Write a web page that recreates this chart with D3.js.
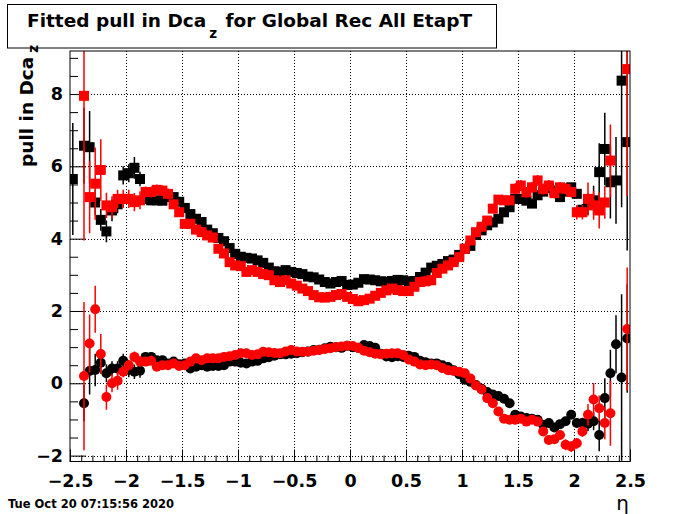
<!DOCTYPE html>
<html><head><meta charset="utf-8">
<script src="https://cdn.jsdelivr.net/npm/d3@7"></script>
<style>html,body{margin:0;padding:0;background:#fff;}svg{display:block;}</style>
</head><body>
<script>
// ---- data ----
const etaMin = -2.5, etaMax = 2.5, binWidth = 0.05;
const xTickValues = [-2.5,-2,-1.5,-1,-0.5,0,0.5,1,1.5,2,2.5];
const xTickLabels = ["\u22122.5","\u22122","\u22121.5","\u22121","\u22120.5","0","0.5","1","1.5","2","2.5"];
const yTickValues = [-2,0,2,4,6,8];
const yTickLabels = ["\u22122","0","2","4","6","8"];

const blackWidth = [
5.65,null,6.57,6.53,5.00,4.52,4.20,4.78,4.95,5.75,
5.81,5.96,5.65,5.10,5.06,5.06,5.05,5.15,5.15,5.02,
4.85,4.68,4.55,4.46,4.25,4.15,4.02,3.93,3.74,3.58,
3.50,3.47,3.45,3.40,3.33,3.20,3.10,3.08,3.13,3.08,
3.05,3.02,2.95,2.93,2.87,2.80,2.76,2.80,2.83,2.72,
2.73,2.78,2.88,2.87,2.85,2.82,2.81,2.83,2.86,2.85,
2.82,2.83,2.94,3.06,3.20,3.25,3.30,3.38,3.42,3.55,
3.72,3.80,4.10,4.23,4.37,4.45,4.55,4.73,4.87,5.10,
5.10,5.05,4.97,5.20,5.30,5.40,5.33,5.15,5.30,5.42,
5.24,4.80,4.95,5.06,5.84,6.48,5.56,5.61,8.37,6.67];
const blackWidthErr = [
1.55,0,1.05,1.00,0.35,0.30,0.30,0.30,0.25,0.25,
0.25,0.30,0.20,0.12,0.12,0.12,0.12,0.12,0.12,0.12,
0.12,0.07,0.07,0.07,0.07,0.07,0.07,0.07,0.07,0.07,
0.07,0.04,0.04,0.04,0.04,0.04,0.04,0.04,0.04,0.04,
0.04,0.04,0.04,0.04,0.04,0.04,0.04,0.04,0.04,0.04,
0.04,0.04,0.04,0.04,0.04,0.04,0.04,0.04,0.04,0.04,
0.04,0.04,0.04,0.04,0.04,0.04,0.04,0.04,0.04,0.06,
0.06,0.06,0.06,0.06,0.06,0.06,0.06,0.06,0.06,0.12,
0.12,0.12,0.12,0.12,0.12,0.12,0.12,0.12,0.12,0.12,
0.12,0.15,0.30,0.40,0.80,1.00,1.00,1.20,3.50,3.00];

const redWidth = [
null,null,7.95,5.15,5.52,5.90,4.92,4.87,5.10,5.10,
5.10,5.01,5.06,5.29,5.29,5.35,5.33,5.24,4.95,4.73,
4.41,4.41,4.25,4.18,4.09,4.03,3.72,3.59,3.35,3.26,
3.24,3.08,3.13,3.08,3.02,2.99,2.85,2.80,2.85,2.76,
2.70,2.62,2.55,2.44,2.38,2.37,2.39,2.44,2.47,2.39,
2.33,2.27,2.30,2.34,2.42,2.50,2.57,2.62,2.58,2.55,
2.55,2.67,2.80,2.82,2.85,3.05,3.17,3.26,3.35,3.49,
3.72,3.95,4.18,4.33,4.50,4.83,5.08,5.06,5.06,5.38,
5.47,5.28,5.42,5.61,5.37,5.47,5.26,5.42,5.38,5.29,
4.73,4.73,5.10,4.92,4.78,5.00,6.16,null,null,8.69];
const redWidthErr = [
0,0,4.00,1.00,1.00,0.85,0.35,0.30,0.25,0.25,
0.25,0.25,0.25,0.15,0.15,0.15,0.15,0.15,0.08,0.08,
0.08,0.08,0.08,0.08,0.08,0.08,0.08,0.08,0.08,0.08,
0.08,0.05,0.05,0.05,0.05,0.05,0.05,0.05,0.05,0.05,
0.05,0.05,0.05,0.05,0.05,0.05,0.05,0.05,0.05,0.05,
0.05,0.05,0.05,0.05,0.05,0.05,0.05,0.05,0.05,0.05,
0.05,0.05,0.05,0.05,0.05,0.05,0.05,0.05,0.05,0.08,
0.08,0.08,0.08,0.08,0.08,0.08,0.08,0.08,0.08,0.15,
0.15,0.15,0.15,0.15,0.15,0.15,0.15,0.15,0.15,0.15,
0.20,0.20,0.45,0.40,0.50,0.45,1.00,0,0,3.50];

const blackMean = [
null,null,-0.55,0.34,0.37,0.57,0.28,0.41,0.41,0.62,
0.37,0.32,0.35,0.73,0.73,0.64,0.64,0.55,0.60,0.53,
0.55,0.41,0.46,0.50,0.46,0.48,0.48,0.50,0.60,0.60,
0.57,0.55,0.60,0.62,0.69,0.72,0.76,0.80,0.80,0.82,
0.83,0.86,0.88,0.92,0.93,0.97,1.01,1.00,0.98,1.04,
1.00,0.98,1.06,1.03,0.98,0.82,0.74,0.72,0.75,0.73,
0.76,0.73,0.62,0.58,0.55,0.55,0.50,0.45,0.36,0.25,
0.10,0.04,-0.05,-0.15,-0.24,-0.31,-0.35,-0.43,-0.55,-0.87,
-0.92,-0.96,-0.98,-1.01,-1.15,-1.10,-1.22,-1.13,-1.05,-0.87,
-1.10,-1.10,-1.12,-1.05,-1.43,-0.41,0.28,1.08,0.16,1.24];
const blackMeanErr = [
0,0,0.50,0.65,0.45,0.30,0.25,0.20,0.20,0.20,
0.20,0.20,0.20,0.10,0.10,0.10,0.10,0.10,0.10,0.10,
0.10,0.07,0.07,0.07,0.07,0.07,0.07,0.07,0.07,0.07,
0.07,0.04,0.04,0.04,0.04,0.04,0.04,0.04,0.04,0.04,
0.04,0.04,0.04,0.04,0.04,0.04,0.04,0.04,0.04,0.04,
0.04,0.04,0.04,0.04,0.04,0.04,0.04,0.04,0.04,0.04,
0.04,0.04,0.04,0.04,0.04,0.04,0.04,0.04,0.04,0.06,
0.06,0.06,0.06,0.06,0.06,0.06,0.06,0.06,0.06,0.12,
0.12,0.12,0.12,0.12,0.12,0.12,0.12,0.12,0.12,0.12,
0.12,0.15,0.20,0.25,0.45,0.55,0.65,0.80,2.30,1.50];

const redMean = [
null,null,0.20,1.10,2.05,0.81,-0.38,0.00,0.07,0.32,
0.50,0.73,0.60,0.60,0.62,0.46,0.50,0.50,0.55,0.48,
0.50,0.60,0.69,0.64,0.69,0.69,0.69,0.73,0.75,0.78,
0.83,0.83,0.78,0.80,0.87,0.86,0.84,0.83,0.88,0.92,
0.88,0.87,0.87,0.90,0.92,0.95,0.97,1.00,1.02,1.04,
1.03,0.98,0.90,0.86,0.82,0.80,0.82,0.83,0.83,0.78,
0.66,0.60,0.52,0.50,0.52,0.50,0.42,0.36,0.34,0.32,
0.28,0.13,-0.06,-0.17,-0.41,-0.55,-0.78,-0.98,-1.01,-1.01,
-0.98,-1.06,-1.01,-1.06,-1.33,-1.57,-1.55,-1.43,-1.70,-1.75,
-1.66,-1.33,-0.87,-0.45,-0.69,-1.10,-0.83,null,null,1.50];
const redMeanErr = [
0,0,2.05,0.80,0.65,0.55,0.35,0.25,0.25,0.15,
0.15,0.15,0.15,0.10,0.10,0.10,0.10,0.10,0.10,0.10,
0.10,0.07,0.07,0.07,0.07,0.07,0.07,0.07,0.07,0.07,
0.07,0.04,0.04,0.04,0.04,0.04,0.04,0.04,0.04,0.04,
0.04,0.04,0.04,0.04,0.04,0.04,0.04,0.04,0.04,0.04,
0.04,0.04,0.04,0.04,0.04,0.04,0.04,0.04,0.04,0.04,
0.04,0.04,0.04,0.04,0.04,0.04,0.04,0.04,0.04,0.06,
0.06,0.06,0.06,0.06,0.06,0.06,0.06,0.06,0.06,0.12,
0.12,0.12,0.12,0.12,0.12,0.12,0.12,0.12,0.15,0.15,
0.15,0.15,0.30,0.45,0.35,0.45,0.90,0,0,1.70];

// ---- layout ----
const W = 700, H = 514;
const FL = 70, FR = 630, FT = 51, FB = 461.5;
const FONT = "'DejaVu Sans', sans-serif";

const svg = d3.select("body").append("svg").attr("width", W).attr("height", H);
svg.append("rect").attr("width", W).attr("height", H).attr("fill", "#fff");

const x = d3.scaleLinear().domain([etaMin, etaMax]).range([FL, FR]);
const y = d3.scaleLinear().domain([-2.163, 9.19]).range([FB, FT]);

const nBins = Math.round((etaMax - etaMin) / binWidth);
const centers = d3.range(nBins).map(i => etaMin + binWidth * (i + 0.5));

// grid
const grid = svg.append("g").attr("stroke", "#000").attr("stroke-width", 1).attr("stroke-dasharray", "1,2");
xTickValues.filter(v => v > etaMin && v < etaMax).forEach(v => {
  grid.append("line").attr("x1", Math.round(x(v)) + 0.5).attr("x2", Math.round(x(v)) + 0.5).attr("y1", FT).attr("y2", FB);
});
yTickValues.forEach(v => {
  grid.append("line").attr("x1", FL).attr("x2", FR).attr("y1", Math.round(y(v)) + 0.5).attr("y2", Math.round(y(v)) + 0.5);
});

// axes
const xMinor = d3.range(-25, 26).map(k => k / 10).filter(v => !xTickValues.some(t => Math.abs(t - v) < 1e-9));
const yMinor = d3.range(-4, 19).map(k => k / 2).filter(v => v >= -2.163 && v <= 9.19 && !yTickValues.some(t => Math.abs(t - v) < 1e-9));

svg.append("g").attr("transform", `translate(0,${FB})`)
  .call(d3.axisBottom(x).tickValues(xTickValues).tickSizeInner(-12).tickSizeOuter(0).tickPadding(13)
    .tickFormat((d, i) => xTickLabels[i]));
svg.append("g").attr("transform", `translate(0,${FB})`)
  .call(d3.axisBottom(x).tickValues(xMinor).tickSizeInner(-6).tickSizeOuter(0).tickFormat(""));
svg.append("g").attr("transform", `translate(${FL},0)`)
  .call(d3.axisLeft(y).tickValues(yTickValues).tickSizeInner(-16).tickSizeOuter(0).tickPadding(7)
    .tickFormat((d, i) => yTickLabels[i]));
svg.append("g").attr("transform", `translate(${FL},0)`)
  .call(d3.axisLeft(y).tickValues(yMinor).tickSizeInner(-8).tickSizeOuter(0).tickFormat(""));
svg.selectAll(".domain").remove();
svg.selectAll(".tick line").attr("stroke", "#000").attr("stroke-width", 1);
svg.selectAll(".tick text").attr("font-family", FONT).attr("font-weight", "bold").attr("font-size", 17.5).attr("fill", "#000");

// clip
svg.append("clipPath").attr("id", "clip").append("rect").attr("x", FL).attr("y", FT).attr("width", FR - FL).attr("height", FB - FT);
const plot = svg.append("g").attr("clip-path", "url(#clip)");

function drawSeries(vals, errs, color, shape) {
  const pts = centers.map((c, i) => ({c, v: vals[i], e: errs[i]})).filter(p => p.v !== null);
  const g = plot.append("g");
  g.selectAll("line").data(pts).enter().append("line")
    .attr("x1", p => x(p.c)).attr("x2", p => x(p.c))
    .attr("y1", p => y(p.v - p.e)).attr("y2", p => y(p.v + p.e))
    .attr("stroke", color).attr("stroke-width", 1.5);
  if (shape === "square") {
    g.selectAll("rect").data(pts).enter().append("rect")
      .attr("x", p => x(p.c) - 5).attr("y", p => y(p.v) - 5)
      .attr("width", 10).attr("height", 10).attr("fill", color);
  } else {
    g.selectAll("circle").data(pts).enter().append("circle")
      .attr("cx", p => x(p.c)).attr("cy", p => y(p.v)).attr("r", 5).attr("fill", color);
  }
}
drawSeries(blackWidth, blackWidthErr, "#000", "square");
drawSeries(redWidth, redWidthErr, "#ff0000", "square");
drawSeries(blackMean, blackMeanErr, "#000", "circle");
drawSeries(redMean, redMeanErr, "#ff0000", "circle");

// frame
svg.append("rect").attr("x", FL).attr("y", FT).attr("width", FR - FL).attr("height", FB - FT)
  .attr("fill", "none").attr("stroke", "#000").attr("stroke-width", 1);

// title box
svg.append("rect").attr("x", 7.5).attr("y", 4.5).attr("width", 489).attr("height", 43.5)
  .attr("fill", "#fff").attr("stroke", "#000").attr("stroke-width", 1);
const t = svg.append("text").attr("x", 27).attr("y", 27).attr("font-family", FONT)
  .attr("font-weight", "bold").attr("font-size", 18.5).attr("fill", "#000");
t.append("tspan").text("Fitted pull in Dca");
t.append("tspan").attr("dy", 11).attr("font-size", 13.5).attr("dx", 3).text("z");
t.append("tspan").attr("dy", -11).attr("dx", 2).text(" for Global Rec All EtapT");

// y title
const yt = svg.append("text").attr("transform", "translate(33,167) rotate(-90)")
  .attr("font-family", FONT).attr("font-weight", "bold").attr("font-size", 18.5).attr("fill", "#000");
yt.append("tspan").text("pull in Dca");
yt.append("tspan").attr("dy", 5).attr("dx", 4).attr("font-size", 13.5).text("z");

// x title
svg.append("text").attr("x", 629).attr("y", 510).attr("text-anchor", "end")
  .attr("font-family", FONT).attr("font-size", 20).attr("fill", "#000").text("\u03b7");

// date
svg.append("text").attr("x", 8).attr("y", 508).attr("font-family", FONT).attr("font-weight", "bold")
  .attr("font-size", 11.5).attr("fill", "#000").text("Tue Oct 20 07:15:56 2020");
</script>
</body></html>
